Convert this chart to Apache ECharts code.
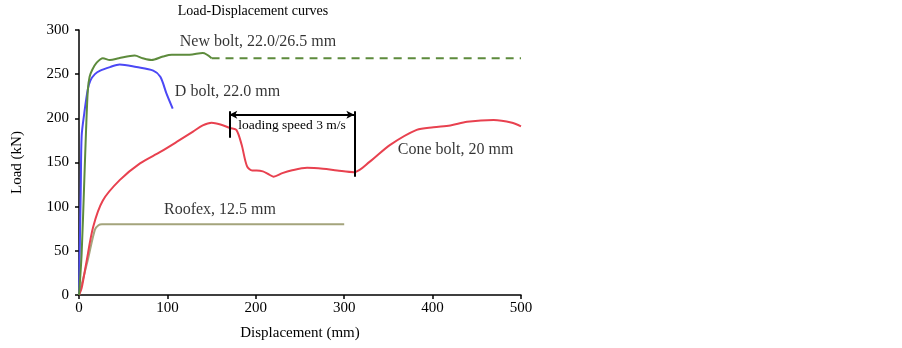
<!DOCTYPE html>
<html>
<head>
<meta charset="utf-8">
<script src="https://cdn.jsdelivr.net/npm/echarts@6/dist/echarts.min.js"></script>
<style>
  html, body { margin: 0; padding: 0; background: #fff; }
  #chart { width: 902px; height: 348px; }
</style>
</head>
<body>
<div id="chart"></div>
<script>
// values: [displacement mm, load kN]
var newBolt = [[0, 0], [3, 47], [6, 130], [8, 187], [10, 232], [12, 247], [15, 255], [20, 263], [27, 268], [35, 266], [45, 268], [63, 271], [72, 268], [82, 266], [95, 270], [105, 272], [125, 272], [140, 274], [150, 268]]
var newBoltDashed = [[150, 268], [500, 268]]
var dBolt = [[0, 0], [1, 60], [2, 120], [3, 180], [6, 206], [10, 233], [13, 243], [18, 250], [24, 254], [35, 258], [46, 261], [65, 258], [84, 254], [92, 247], [99, 228], [106, 211]]
var coneBolt = [[0, 0], [3, 8], [8, 35], [16, 77], [27, 107], [46, 130], [69, 149], [92, 162], [110, 173], [129, 185], [140, 192], [150, 195], [160, 193], [171, 189], [178, 187], [184, 170], [190, 146], [196, 141], [201, 141], [208, 140], [214, 137], [220, 134], [230, 138], [240, 141], [258, 144], [276, 143], [292, 141], [311, 139], [329, 151], [352, 170], [382, 187], [401, 190], [420, 192], [439, 196], [469, 198], [490, 195], [500, 191]]
var roofex = [[0, 0], [10, 40], [18, 74], [22, 79], [26, 80], [300, 80]]
var curveNames = ['New bolt, 22.0/26.5 mm', 'D bolt, 22.0 mm', 'Cone bolt, 20 mm', 'Roofex, 12.5 mm']
var curveLabelAt = [[202.5, 286.5], [168, 230], [426, 164], [159.5, 96]]
var speedNote = 'loading speed 3 m/s'

var font = 'Liberation Serif'
var chart = echarts.init(document.getElementById('chart'))

var labelData = curveNames.map(function(n, i) {
  return { name: n, value: curveLabelAt[i] }
})

function curve(name, data, color, dashed) {
  return {
    type: 'line',
    name: name,
    data: data,
    showSymbol: false,
    smooth: 0.3,
    lineStyle: { color: color, width: 2, type: dashed ? [8, 6] : 'solid' },
    z: 3
  }
}

var option = {
  animation: false,
  title: {
    text: 'Load-Displacement curves',
    left: 248,
    top: -1,
    textAlign: 'center',
    textStyle: { fontFamily: font, fontSize: 14, fontWeight: 'normal', color: '#000' }
  },
  grid: { left: 79, right: 381, top: 30, bottom: 53 },
  xAxis: {
    type: 'value',
    min: 0,
    max: 500,
    interval: 100,
    name: 'Displacement (mm)',
    nameLocation: 'middle',
    nameGap: 31,
    nameTextStyle: { fontFamily: font, fontSize: 15, color: '#000' },
    axisLine: { show: true, lineStyle: { color: '#000', width: 1.5 } },
    axisTick: { show: true, length: 4, lineStyle: { color: '#000', width: 1.5 } },
    axisLabel: { fontFamily: font, fontSize: 15, color: '#000', margin: 6 },
    splitLine: { show: false }
  },
  yAxis: {
    type: 'value',
    min: 0,
    max: 300,
    interval: 50,
    name: 'Load (kN)',
    nameLocation: 'middle',
    nameGap: 54,
    nameTextStyle: { fontFamily: font, fontSize: 15, color: '#000' },
    axisLine: { show: true, lineStyle: { color: '#000', width: 1.5 } },
    axisTick: { show: true, length: 4, lineStyle: { color: '#000', width: 1.5 } },
    axisLabel: { fontFamily: font, fontSize: 15, color: '#000', margin: 10 },
    splitLine: { show: false }
  },
  series: [
    curve('Roofex', roofex, '#a4a47c'),
    curve('Cone bolt', coneBolt, '#e8414f'),
    curve('D bolt', dBolt, '#4b48f5'),
    curve('New bolt', newBolt, '#5d8b3c'),
    curve('New bolt dashed', newBoltDashed, '#5d8b3c', true),
    {
      type: 'scatter',
      name: 'labels',
      data: labelData,
      symbolSize: 0,
      label: {
        show: true,
        formatter: '{b}',
        position: 'inside',
        fontFamily: font,
        fontSize: 16,
        color: '#000'
      },
      markLine: {
        silent: true,
        symbol: 'none',
        label: { show: false },
        lineStyle: { color: '#000', width: 2, type: 'solid' },
        data: [
          [{ coord: [170, 178] }, { coord: [170, 208] }],
          [{ coord: [311.5, 134] }, { coord: [311.5, 208] }],
          [{ coord: [170, 204], symbol: 'arrow', symbolSize: [6, 8] }, { coord: [311.5, 204], symbol: 'arrow', symbolSize: [6, 8] }]
        ]
      },
      markPoint: {
        silent: true,
        symbol: 'circle',
        symbolSize: 0,
        label: { show: true, formatter: '{b}', fontFamily: font, fontSize: 13.5, color: '#000' },
        data: [{ name: speedNote, coord: [241, 192] }]
      }
    }
  ]
}

chart.setOption(option)
</script>
</body>
</html>
